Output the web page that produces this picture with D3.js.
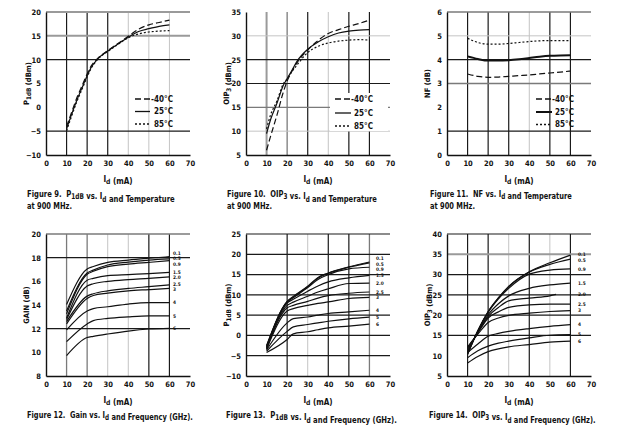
<!DOCTYPE html>
<html><head><meta charset="utf-8">
<script src="https://cdn.jsdelivr.net/npm/d3@7"></script>
<style>
body{margin:0;background:#fff;}
svg{display:block;}
text{font-family:"Liberation Sans Narrow","Arial Narrow","DejaVu Sans Condensed",sans-serif;font-weight:bold;fill:#111;}
</style></head><body>
<svg id="c" width="620" height="440"></svg>
<script>
// ---------------- DATA ----------------
const xTicks = [0,10,20,30,40,50,60,70];
const p1dbYTicks = [-10,-5,0,5,10,15,20];
const oipYTicks = [5,10,15,20,25,30,35];
const nfYTicks = [0,1,2,3,4,5,6];
const gainYTicks = [8,10,12,14,16,18,20];
const p1dbFYTicks = [-10,-5,0,5,10,15,20,25];
const oipFYTicks = [5,10,15,20,25,30,35,40];

const tempLabels = ["-40°C","25°C","85°C"];

const tempX = [10,12,15,18,20,22,25,30,35,40,45,50,55,60];
const p1dbM40 = [-4.0,-1.6,2.0,5.0,7.0,8.7,10.2,11.9,13.4,14.9,16.4,17.3,17.8,18.3];
const p1db25  = [-4.5,-2.0,1.5,4.6,6.6,8.4,10.1,11.8,13.3,14.7,15.9,16.5,17.0,17.3];
const p1db85  = [-4.9,-2.4,1.2,4.3,6.4,8.2,10.0,11.7,13.2,14.6,15.4,15.8,16.0,16.1];

const oipM40 = [6.0,9.0,13.3,18.0,20.5,22.3,24.5,27.0,29.0,30.5,31.3,32.0,32.6,33.3];
const oip25  = [9.5,12.5,15.8,19.5,21.0,22.5,24.8,27.2,28.7,29.8,30.6,31.0,31.2,31.3];
const oip85  = [10.5,13.5,16.3,19.8,21.0,22.3,24.0,26.5,27.8,28.5,28.9,29.1,29.2,29.1];

const nfX = [10,15,20,25,30,35,40,45,50,55,60];
const nfM40 = [3.40,3.30,3.26,3.27,3.30,3.33,3.36,3.40,3.44,3.48,3.52];
const nf25  = [4.14,4.03,3.96,3.96,3.98,4.02,4.07,4.12,4.16,4.18,4.19];
const nf85  = [4.90,4.72,4.65,4.65,4.68,4.72,4.76,4.79,4.80,4.80,4.80];

const freqLabels = ["0.1","0.5","0.9","1.5","2.0","2.5","3","4","5","6"];

const gainX = [10,20,23,30,40,50,60];
const gainVals = [
  [14.05,17.05,17.25,17.60,17.80,17.95,18.08],
  [13.50,16.70,16.95,17.38,17.63,17.80,17.90],
  [13.25,16.60,16.85,17.24,17.45,17.60,17.75],
  [12.90,16.10,16.25,16.48,16.57,16.65,16.76],
  [12.77,15.60,15.80,16.00,16.15,16.25,16.37],
  [12.60,14.75,14.95,15.20,15.40,15.55,15.70],
  [12.40,14.55,14.80,15.00,15.20,15.30,15.40],
  [11.90,13.50,13.70,13.85,14.08,14.20,14.20],
  [10.90,12.40,12.68,12.87,13.00,13.08,13.08],
  [9.72,11.25,11.35,11.55,11.80,11.97,12.03]
];

const p1dbFX = [10,20,23,30,35,40,50,60];
const p1dbFVals = [
  [-2.5,8.4,9.6,12.1,14.3,15.4,16.9,18.1],
  [-2.7,8.3,9.5,12.0,14.1,15.3,16.8,17.9],
  [-2.8,8.2,9.3,11.8,13.8,15.0,16.4,16.8],
  [-3.0,8.0,8.9,10.9,12.2,13.2,14.2,14.8],
  [-3.1,7.4,8.2,9.65,10.7,11.5,12.8,12.9],
  [-3.3,6.8,7.4,8.4,9.2,9.8,10.4,10.7],
  [-3.4,6.0,6.6,7.4,7.9,8.25,9.1,9.4],
  [-3.6,3.1,4.15,4.55,5.0,5.4,5.8,6.2],
  [-3.9,1.0,2.1,2.7,3.1,3.5,4.1,4.5],
  [-4.2,-1.0,0.4,0.9,1.4,1.85,2.3,2.8]
];

const oipFX = [10,15,20,25,30,40,50,60];
const oip20X = [10,15,20,25,30,40,50,53];
const oipFVals = [
  [10.3,16.2,20.9,24.3,27.1,30.7,32.9,34.8],
  [10.4,16.1,20.8,24.2,27.0,30.6,32.5,33.8],
  [10.6,16.1,20.7,24.0,26.6,30.1,31.1,31.4],
  [11.0,15.9,20.1,22.8,24.75,26.6,27.45,27.9],
  [11.5,15.7,19.7,21.9,23.5,24.2,24.75,25.1],
  [11.9,15.6,19.3,20.8,21.9,22.55,22.7,22.7],
  [12.2,15.3,18.2,19.3,19.95,20.5,20.9,21.1],
  [10.8,12.9,14.8,15.5,16.0,16.7,17.25,17.65],
  [9.5,11.2,12.35,13.1,13.6,14.4,15.05,15.2],
  [8.2,9.8,11.0,11.7,12.2,12.75,13.35,13.6]
];

// ---------------- STYLE / LAYOUT ----------------
const G = {
  d:{c:"#1a1a1a",w:1.2},
  g:{c:"#7a7a7a",w:1.3},
  gt:{c:"#9a9a9a",w:2},
  l:{c:"#c4c4c4",w:1}
};
const dashes = ["6,3",null,"2,2"];
const SP = "\u00a0\u00a0";

const sub = s => ({t:s,sub:true});
const idTitle = ["I",sub("d")," (mA)"];

const panels = [
  {x0:46,x1:190,y0:12,y1:155,yd:[-10,20],yt:p1dbYTicks,
   vg:{10:"d",20:"d",30:"d",40:"l",50:"l",60:"l"},hg:{20:"gt",15:"gt",10:"d","-5":"d"},
   yTitle:["P",sub("1dB")," (dBm)"],
   series:[{x:tempX,v:p1dbM40},{x:tempX,v:p1db25},{x:tempX,v:p1db85}],
   legend:{lx0:135,lx1:150,tx:173,ys:[99,111.5,124]},
   cap:[["Figure 9."+SP,"P",sub("1dB")," vs. I",sub("d")," and Temperature"],["at 900 MHz."]],capX:27,capW:[148,45]},
  {x0:246,x1:390,y0:12,y1:155,yd:[5,35],yt:oipYTicks,
   vg:{10:"gt",20:"g",30:"d",40:"l",50:"d",60:"d"},hg:{30:"l",25:"d",20:"d",15:"g",10:"l"},
   yTitle:["OIP",sub("3")," (dBm)"],
   series:[{x:tempX,v:oipM40},{x:tempX,v:oip25},{x:tempX,v:oip85}],
   legend:{lx0:335,lx1:351,tx:373,ys:[99,113,126],bg:[330,93,58,38]},
   cap:[["Figure 10."+SP+"OIP",sub("3")," vs. I",sub("d")," and Temperature"],["at 900 MHz."]],capX:227,capW:[150,45]},
  {x0:447,x1:591,y0:12,y1:155,yd:[0,6],yt:nfYTicks,
   vg:{10:"d",20:"d",30:"d",40:"l",50:"d",60:"d"},hg:{6:"g",5:"l",4:"d",3:"g",1:"d"},
   yTitle:["NF (dB)"],
   series:[{x:nfX,v:nfM40},{x:nfX,v:nf25,w:2},{x:nfX,v:nf85}],
   legend:{lx0:536,lx1:552,tx:574,ys:[99,112,124.5]},
   cap:[["Figure 11."+SP+"NF vs. I",sub("d")," and Temperature"],["at 900 MHz."]],capX:430,capW:[142,45]},
  {x0:46,x1:190,y0:234,y1:376,yd:[8,20],yt:gainYTicks,
   vg:{10:"g",20:"g",30:"l",40:"l",50:"d",60:"d"},hg:{20:"g",18:"d",12:"d"},
   yTitle:["GAIN (dB)"],
   series:gainVals.map(v=>({x:gainX,v})),
   flx:173,
   cap:[["Figure 12."+SP+"Gain vs. I",sub("d")," and Frequency (GHz)."]],capX:27,capW:[166]},
  {x0:246,x1:390,y0:234,y1:376,yd:[-10,25],yt:p1dbFYTicks,
   vg:{20:"d",30:"l",40:"d",50:"d",60:"g"},hg:{25:"d",20:"d",15:"d",10:"d",5:"d",0:"d","-5":"d"},
   yTitle:["P",sub("1dB")," (dBm)"],
   series:p1dbFVals.map(v=>({x:p1dbFX,v})),
   flx:376,
   cap:[["Figure 13."+SP+"P",sub("1dB")," vs. I",sub("d")," and Frequency (GHz)."]],capX:226,capW:[171]},
  {x0:447,x1:591,y0:234,y1:376,yd:[5,40],yt:oipFYTicks,
   vg:{10:"d",20:"d",30:"l",40:"d",50:"l",60:"d"},hg:{40:"d",35:"gt",30:"d",25:"d",20:"d",15:"d"},
   yTitle:["OIP",sub("3")," (dBm)"],
   series:oipFVals.map((v,i)=>({x:i===4?oip20X:oipFX,v})),
   flx:578,
   cap:[["Figure 14."+SP+"OIP",sub("3")," vs. I",sub("d")," and Frequency (GHz)."]],capX:429,capW:[167]}
];

// ---------------- DRAW ----------------
const svg = d3.select("#c");

function rich(sel, parts, size){
  parts.forEach(p=>{
    if(typeof p==="string"){ sel.append("tspan").text(p); }
    else { sel.append("tspan").attr("font-size",size*0.85).attr("dy",size*0.25).text(p.t);
           sel.append("tspan").attr("dy",-size*0.25).text(""); }
  });
  return sel;
}

panels.forEach((P,pi)=>{
  const g = svg.append("g");
  const x = d3.scaleLinear().domain([0,70]).range([P.x0,P.x1]);
  const y = d3.scaleLinear().domain(P.yd).range([P.y1,P.y0]);

  // grid
  Object.entries(P.vg).forEach(([k,s])=>{
    g.append("line").attr("x1",x(+k)).attr("x2",x(+k)).attr("y1",P.y0).attr("y2",P.y1)
     .attr("stroke",G[s].c).attr("stroke-width",G[s].w);
  });
  Object.entries(P.hg).forEach(([k,s])=>{
    g.append("line").attr("x1",P.x0).attr("x2",P.x1).attr("y1",y(+k)).attr("y2",y(+k))
     .attr("stroke",G[s].c).attr("stroke-width",G[s].w);
  });

  // axes via d3
  const xa = g.append("g").attr("transform",`translate(0,${P.y1})`)
    .call(d3.axisBottom(x).tickValues(xTicks).tickSize(0).tickPadding(6).tickFormat(d3.format("d")));
  xa.select(".domain").attr("stroke","#111").attr("stroke-width",1.4);
  xa.selectAll("text").attr("font-size",7.5).attr("font-family",null);
  const ya = g.append("g").attr("transform",`translate(${P.x0},0)`)
    .call(d3.axisLeft(y).tickValues(P.yt).tickSize(0).tickPadding(5).tickFormat(d3.format("d")));
  ya.select(".domain").attr("stroke","#111").attr("stroke-width",1.4);
  ya.selectAll("text").attr("font-size",7.5).attr("font-family",null);

  // legend background
  if(P.legend && P.legend.bg){
    const b=P.legend.bg;
    g.append("rect").attr("x",b[0]).attr("y",b[1]).attr("width",b[2]).attr("height",b[3]).attr("fill","#fff");
  }

  // series
  const line = d3.line().x(d=>x(d[0])).y(d=>y(d[1])).curve(d3.curveMonotoneX);
  P.series.forEach((s,si)=>{
    const pts = s.x.map((xx,i)=>[xx,s.v[i]]);
    const path = g.append("path").attr("d",line(pts)).attr("fill","none")
      .attr("stroke","#111").attr("stroke-width",s.w||1.2).attr("stroke-linejoin","round");
    if(P.legend && dashes[si]) path.attr("stroke-dasharray",dashes[si]);
  });

  // legend
  if(P.legend){
    const L=P.legend;
    tempLabels.forEach((t,i)=>{
      const l = g.append("line").attr("x1",L.lx0).attr("x2",L.lx1).attr("y1",L.ys[i]).attr("y2",L.ys[i])
        .attr("stroke","#111").attr("stroke-width",P.series[i].w||1.3);
      if(dashes[i]) l.attr("stroke-dasharray",dashes[i]);
      g.append("text").attr("x",L.tx).attr("y",L.ys[i]).attr("dy","0.35em")
        .attr("text-anchor","end").attr("font-size",8).text(t);
    });
  }

  // frequency labels (spread to avoid overlap)
  if(P.flx){
    const ends = P.series.map(s=>y(s.v[s.v.length-1]));
    const pos = ends.slice();
    const minGap = 5.6;
    for(let it=0;it<60;it++){
      for(let i=1;i<pos.length;i++){
        const gap = pos[i]-pos[i-1];
        if(gap<minGap){ const d=(minGap-gap)/2; pos[i-1]-=d; pos[i]+=d; }
      }
    }
    freqLabels.forEach((f,i)=>{
      g.append("text").attr("x",P.flx).attr("y",pos[i]).attr("dy","0.35em")
        .attr("font-size",4.8).text(f);
    });
  }

  // titles
  const cy = (P.y0+P.y1)/2;
  const yt = g.append("text").attr("transform",`translate(${P.x0-17},${cy}) rotate(-90)`)
    .attr("text-anchor","middle").attr("font-size",7.5);
  rich(yt,P.yTitle,7.5);
  const xt = g.append("text").attr("x",(P.x0+P.x1)/2).attr("y",P.y1+27)
    .attr("text-anchor","middle").attr("font-size",8);
  rich(xt,idTitle,8);

  // captions
  P.cap.forEach((c,ci)=>{
    const cg = g.append("g");
    const t = cg.append("text").attr("x",0).attr("y",0).attr("font-size",9.5);
    rich(t,c,9.5);
    const w = t.node().getComputedTextLength();
    const k = P.capW[ci]/w;
    cg.attr("transform",`translate(${P.capX},${P.y1+42+ci*12}) scale(${k},1)`);
  });
});
</script>
</body></html>
